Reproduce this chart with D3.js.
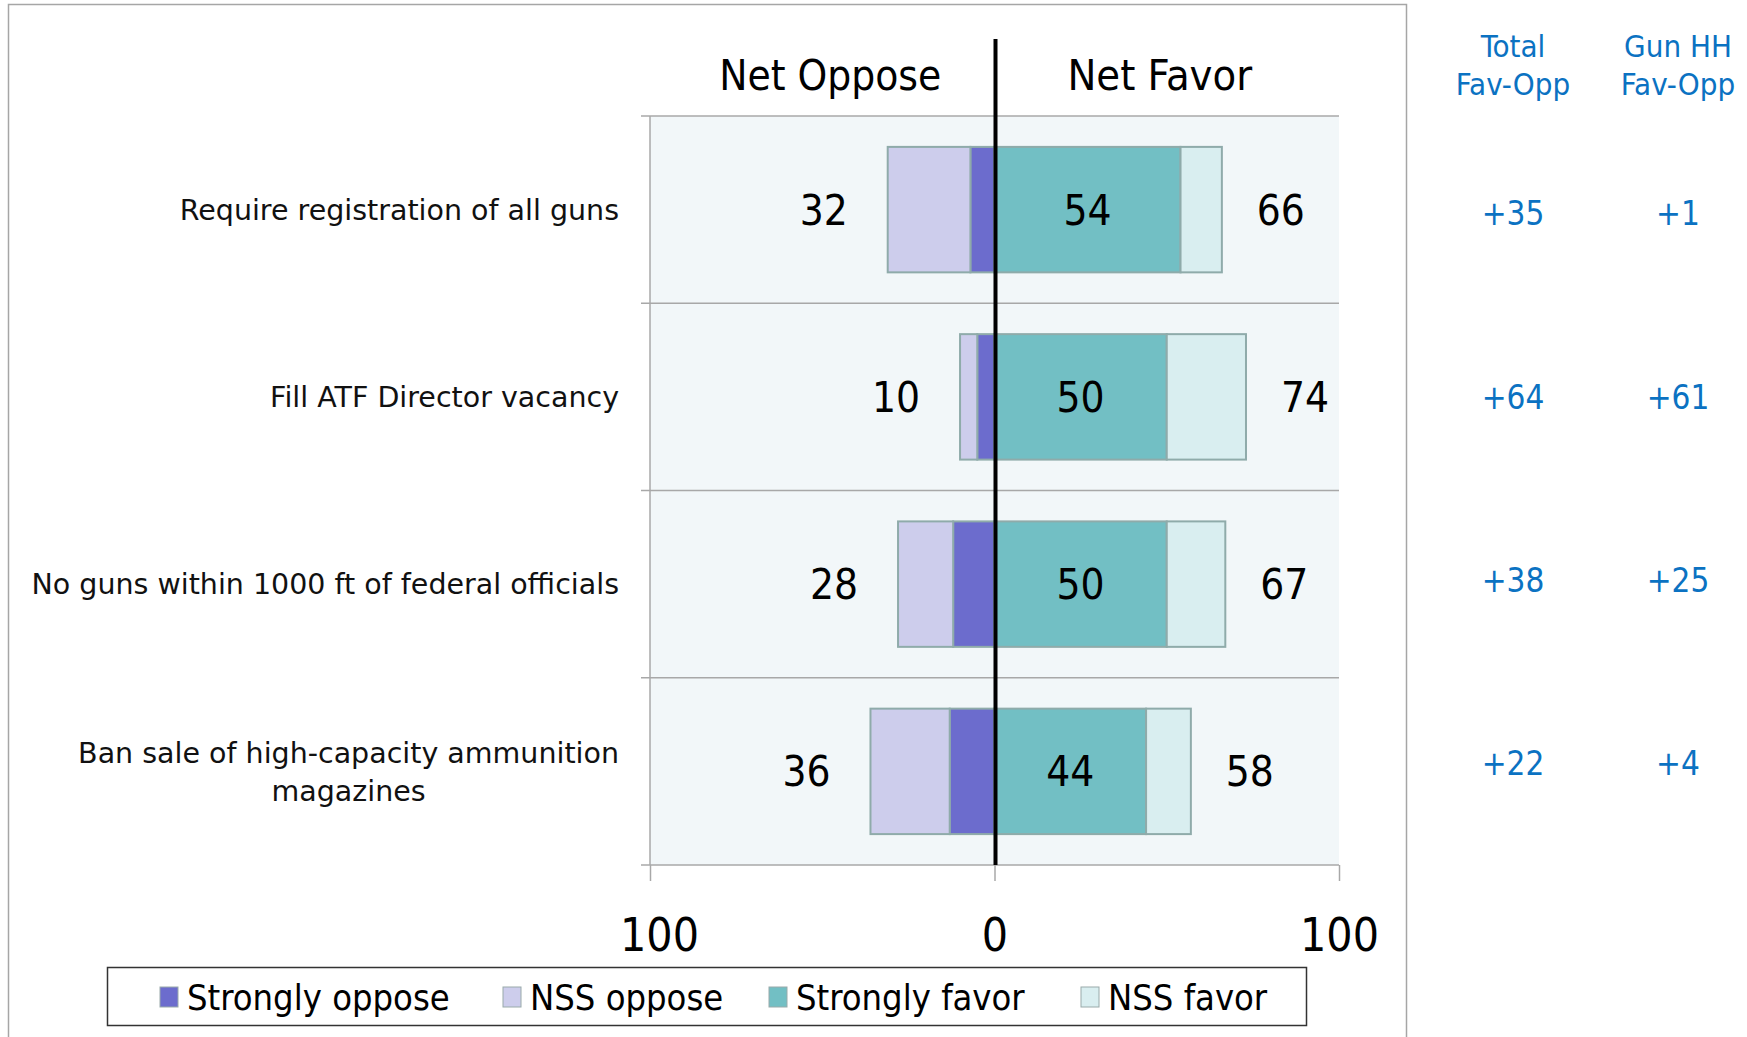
<!DOCTYPE html>
<html>
<head>
<meta charset="utf-8">
<script src="https://cdn.jsdelivr.net/npm/d3@7"></script>
<style>
  body { margin: 0; background: #fff; }
  svg { display: block; }
</style>
</head>
<body>
<svg id="chart" width="1747" height="1037"></svg>
<script>
// data
const categories = [
  'Require registration of all guns',
  'Fill ATF Director vacancy',
  'No guns within 1000 ft of federal officials',
  'Ban sale of high-capacity ammunition\nmagazines'
];
const stronglyOppose = [7, 5, 12, 13];
const nssOppose = [24, 5, 16, 23];
const stronglyFavor = [54, 50, 50, 44];
const nssFavor = [12, 23, 17, 13];
const netOppose = [32, 10, 28, 36];
const netFavor = [66, 74, 67, 58];
const totalFavOpp = ['+35', '+64', '+38', '+22'];
const gunHHFavOpp = ['+1', '+61', '+25', '+4'];
const xTicks = [-100, 0, 100];
const legendLabels = ['Strongly oppose', 'NSS oppose', 'Strongly favor', 'NSS favor'];
const colors = ['#6c6ccd', '#cdcdec', '#72bfc4', '#d9eef0'];

const svg = d3.select('#chart');
const plotL = 650, plotR = 1339, plotT = 116, plotB = 865;

const x = d3.scaleLinear().domain([-100, 100]).range([plotL, plotR]);
const y = d3.scaleBand().domain(categories).range([plotT, plotB])
  .paddingInner(0.33).paddingOuter(0.165);

const numFont = '"Liberation Sans Narrow", "DejaVu Sans Condensed", sans-serif';
const labFont = '"DejaVu Sans", sans-serif';
const colFont = '"DejaVu Sans Condensed", "DejaVu Sans", sans-serif';

// outer frame
svg.append('rect')
  .attr('x', 8.5).attr('y', 4.5).attr('width', 1398).attr('height', 1040)
  .attr('fill', 'none').attr('stroke', '#a6a6a6').attr('stroke-width', 1.5);

// plot background
svg.append('rect')
  .attr('x', plotL).attr('y', plotT).attr('width', plotR - plotL).attr('height', plotB - plotT)
  .attr('fill', '#f2f7f9');

// row separators (category axis ticks)
const step = y.step();
const bounds = d3.range(categories.length + 1).map(i => plotT + i * step);
svg.append('g').selectAll('line').data(bounds).enter().append('line')
  .attr('x1', plotL - 9).attr('x2', plotR)
  .attr('y1', d => d).attr('y2', d => d)
  .attr('stroke', '#a8a8a8').attr('stroke-width', 1.5);

svg.append('line')
  .attr('x1', plotL).attr('x2', plotL).attr('y1', plotT).attr('y2', plotB)
  .attr('stroke', '#a8a8a8').attr('stroke-width', 1.5);

// x axis
const xAxis = svg.append('g')
  .attr('transform', `translate(0, ${plotB})`)
  .call(d3.axisBottom(x).tickValues(xTicks).tickSize(16).tickFormat(d => Math.abs(d)));
xAxis.select('.domain').remove();
xAxis.selectAll('.tick line').attr('stroke', '#a8a8a8').attr('stroke-width', 1.5);
xAxis.selectAll('.tick text')
  .attr('y', 70).attr('dy', '0.35em')
  .attr('font-family', numFont).attr('font-size', 46).attr('fill', '#000')
  .attr('dx', d => d < 0 ? 9 : 0);

// stacked bars
const rows = categories.map((c, i) => {
  const so = stronglyOppose[i], no = nssOppose[i], sf = stronglyFavor[i], nf = nssFavor[i];
  return {
    cat: c, i,
    segs: [
      { k: 0, x0: -so, x1: 0 },
      { k: 1, x0: -so - no, x1: -so },
      { k: 2, x0: 0, x1: sf },
      { k: 3, x0: sf, x1: sf + nf }
    ]
  };
});

const rowG = svg.append('g').selectAll('g').data(rows).enter().append('g');

rowG.selectAll('rect').data(d => d.segs.map(s => Object.assign({ cat: d.cat }, s))).enter()
  .append('rect')
  .attr('x', d => x(d.x0))
  .attr('y', d => y(d.cat))
  .attr('width', d => x(d.x1) - x(d.x0))
  .attr('height', y.bandwidth())
  .attr('fill', d => colors[d.k])
  .attr('stroke', '#8fabaa').attr('stroke-width', 2);

// value labels
rowG.append('text')
  .attr('x', d => x(-(stronglyOppose[d.i] + nssOppose[d.i])) - 64)
  .attr('y', d => y(d.cat) + y.bandwidth() / 2)
  .attr('dy', '0.36em').attr('text-anchor', 'middle')
  .attr('font-family', numFont).attr('font-size', 42)
  .text(d => netOppose[d.i]);

rowG.append('text')
  .attr('x', d => x(stronglyFavor[d.i] / 2))
  .attr('y', d => y(d.cat) + y.bandwidth() / 2)
  .attr('dy', '0.36em').attr('text-anchor', 'middle')
  .attr('font-family', numFont).attr('font-size', 42)
  .text(d => stronglyFavor[d.i]);

rowG.append('text')
  .attr('x', d => x(stronglyFavor[d.i] + nssFavor[d.i]) + 59)
  .attr('y', d => y(d.cat) + y.bandwidth() / 2)
  .attr('dy', '0.36em').attr('text-anchor', 'middle')
  .attr('font-family', numFont).attr('font-size', 42)
  .text(d => netFavor[d.i]);

// zero line
svg.append('line')
  .attr('x1', x(0) + 1).attr('x2', x(0) + 1).attr('y1', 39).attr('y2', plotB)
  .attr('stroke', '#000').attr('stroke-width', 4);

// column headers
svg.append('text').attr('x', (x(-100) + x(0)) / 2 + 8).attr('y', 75).attr('dy', '0.36em')
  .attr('text-anchor', 'middle').attr('font-family', numFont).attr('font-size', 42)
  .text('Net Oppose');
svg.append('text').attr('x', (x(0) + x(100)) / 2 - 7).attr('y', 75).attr('dy', '0.36em')
  .attr('text-anchor', 'middle').attr('font-family', numFont).attr('font-size', 43)
  .text('Net Favor');

// category labels, right edge at 619
const labelRight = 619;
categories.forEach(c => {
  const lines = c.split('\n');
  const cy = y(c) + y.bandwidth() / 2;
  const lh = 38;
  const t = svg.append('text')
    .attr('font-family', labFont).attr('font-size', 28.5).attr('fill', '#111')
    .attr('text-anchor', 'middle');
  lines.forEach((l, j) => {
    t.append('tspan').attr('x', 0)
      .attr('y', cy + (j - (lines.length - 1) / 2) * lh)
      .attr('dy', '0.36em').text(l);
  });
  let w = 0;
  t.selectAll('tspan').each(function () { w = Math.max(w, this.getComputedTextLength()); });
  t.selectAll('tspan').attr('x', labelRight - w / 2);
});

// right-hand columns
const blue = '#0b72c2';
const colX = [1513, 1678];
const colHead = [['Total', 'Fav-Opp'], ['Gun HH', 'Fav-Opp']];
const colVals = [totalFavOpp, gunHHFavOpp];
const colNudge = [3, 0, -4, -8];
colX.forEach((cx, k) => {
  colHead[k].forEach((h, j) => {
    svg.append('text').attr('x', cx).attr('y', 46 + j * 38).attr('dy', '0.36em')
      .attr('text-anchor', 'middle').attr('font-family', colFont).attr('font-size', 31)
      .attr('fill', blue).text(h);
  });
  svg.append('g').selectAll('text').data(colVals[k]).enter().append('text')
    .attr('x', cx)
    .attr('y', (d, i) => y(categories[i]) + y.bandwidth() / 2 + colNudge[i])
    .attr('dy', '0.36em').attr('text-anchor', 'middle')
    .attr('font-family', colFont).attr('font-size', 33).attr('fill', blue)
    .text(d => d);
});

// legend
const lg = svg.append('g');
lg.append('rect').attr('x', 107.5).attr('y', 967.5).attr('width', 1199).attr('height', 58)
  .attr('fill', '#fff').attr('stroke', '#333').attr('stroke-width', 1.5);
const legX = [160, 503, 769, 1081];
legendLabels.forEach((l, i) => {
  lg.append('rect').attr('x', legX[i]).attr('y', 987).attr('width', 18).attr('height', 20)
    .attr('fill', colors[i]).attr('stroke', '#9aa').attr('stroke-width', 1);
  lg.append('text').attr('x', legX[i] + 27).attr('y', 997).attr('dy', '0.36em')
    .attr('font-family', numFont).attr('font-size', 36).text(l);
});
</script>
</body>
</html>
